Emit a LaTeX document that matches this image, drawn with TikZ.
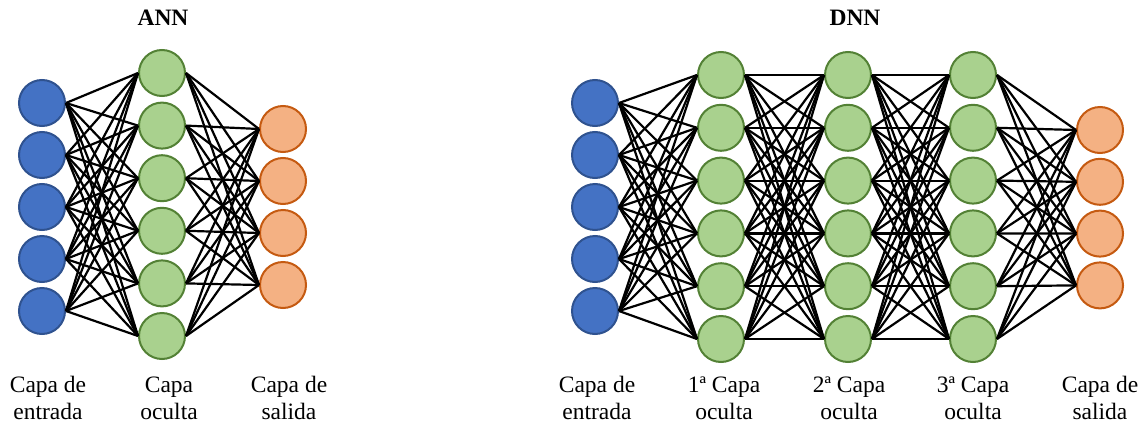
\documentclass[tikz,border=0pt]{standalone}
\usepackage{fontspec}
\setmainfont{Liberation Serif}
\definecolor{inF}{HTML}{4472C4}
\definecolor{inD}{HTML}{2F528F}
\definecolor{hidF}{HTML}{A9D18E}
\definecolor{hidD}{HTML}{538135}
\definecolor{outF}{HTML}{F4B183}
\definecolor{outD}{HTML}{C55A11}
\begin{document}
\begin{tikzpicture}[x=1pt,y=-1pt,
 neuron/.style={circle, minimum size=46pt, inner sep=0pt, line width=2pt},
 inneuron/.style={neuron, fill=inF, draw=inD},
 hidneuron/.style={neuron, fill=hidF, draw=hidD},
 outneuron/.style={neuron, fill=outF, draw=outD},
 edge/.style={line width=2.2pt, black},
 lbl/.style={font=\fontsize{23.5}{27}\selectfont, align=center},
 ttl/.style={font=\fontsize{23.5}{27}\selectfont\bfseries}]
\useasboundingbox (0,0) rectangle (1145,423);
% ---------- ANN ----------
\foreach \i in {1,...,5} \node[inneuron] (ai\i) at (42,{103+(\i-1)*52}) {};
\foreach \j in {1,...,6} \node[hidneuron] (ah\j) at (162,{73+(\j-1)*52.6}) {};
\foreach \k in {1,...,4} \node[outneuron] (ao\k) at (283,{129+(\k-1)*52}) {};
\foreach \i in {1,...,5} \foreach \j in {1,...,6} \draw[edge] (ai\i.east) -- (ah\j.west);
\foreach \j in {1,...,6} \foreach \k in {1,...,4} \draw[edge] (ah\j.east) -- (ao\k.west);
\node[ttl] (tann) at (163,18) {ANN};
\node[lbl] (lai) at (48,398) {Capa de\\entrada};
\node[lbl] (lah) at (169,398) {Capa\\oculta};
\node[lbl] (lao) at (289,398) {Capa de\\salida};
% ---------- DNN ----------
\foreach \i in {1,...,5} \node[inneuron] (di\i) at (595,{103+(\i-1)*52}) {};
\foreach \j in {1,...,6} {
  \node[hidneuron] (da\j) at (721,{75+(\j-1)*52.8}) {};
  \node[hidneuron] (db\j) at (848,{75+(\j-1)*52.8}) {};
  \node[hidneuron] (dc\j) at (973,{75+(\j-1)*52.8}) {};
}
\foreach \k in {1,...,4} \node[outneuron] (do\k) at (1100,{130+(\k-1)*51.8}) {};
\foreach \i in {1,...,5} \foreach \j in {1,...,6} \draw[edge] (di\i.east) -- (da\j.west);
\foreach \i in {1,...,6} \foreach \j in {1,...,6} {
  \draw[edge] (da\i.east) -- (db\j.west);
  \draw[edge] (db\i.east) -- (dc\j.west);
}
\foreach \j in {1,...,6} \foreach \k in {1,...,4} \draw[edge] (dc\j.east) -- (do\k.west);
\node[ttl] (tdnn) at (855,18) {DNN};
\node[lbl] (ldi) at (597,398) {Capa de\\entrada};
\node[lbl] (lda) at (724,398) {1ª Capa\\oculta};
\node[lbl] (ldb) at (849,398) {2ª Capa\\oculta};
\node[lbl] (ldc) at (973,398) {3ª Capa\\oculta};
\node[lbl] (ldo) at (1100,398) {Capa de\\salida};
\end{tikzpicture}
\end{document}
